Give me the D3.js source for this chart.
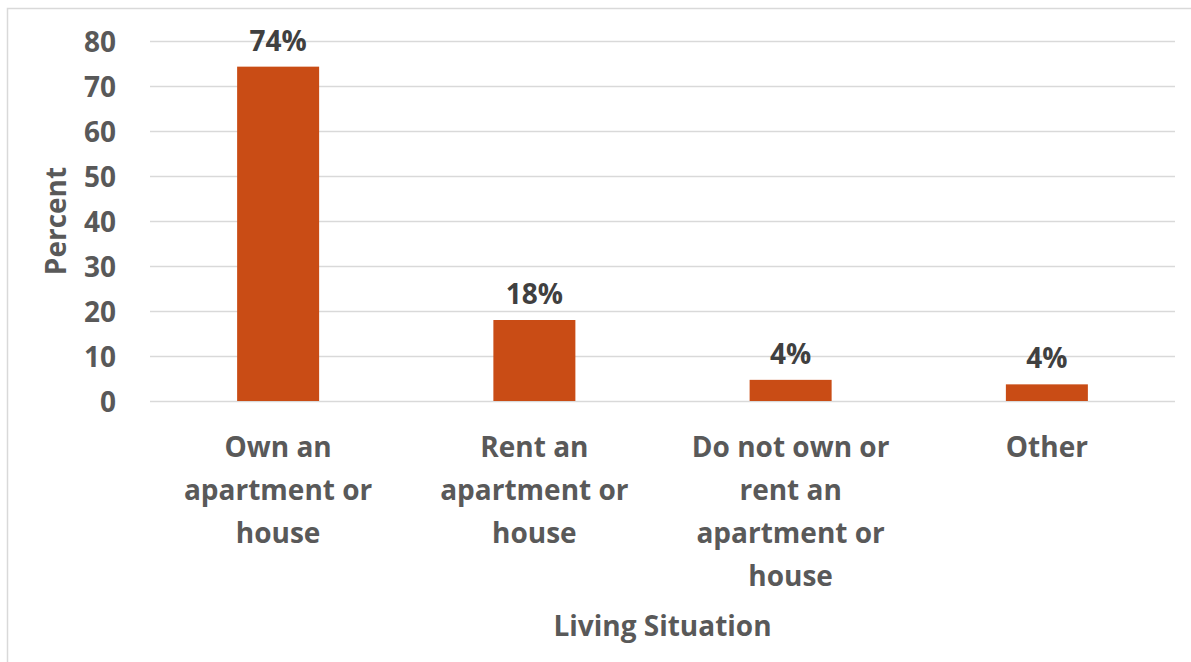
<!DOCTYPE html>
<html>
<head>
<meta charset="utf-8">
<script src="https://cdn.jsdelivr.net/npm/d3@7"></script>
<style>
  html, body { margin: 0; padding: 0; background: #fff; }
  svg { display: block; font-family: "Open Sans", sans-serif; }
</style>
</head>
<body>
<svg id="chart"></svg>
<script>
var width = 1191, height = 662

// data
var categories = ["Own an apartment or house", "Rent an apartment or house",
    "Do not own or rent an apartment or house", "Other"]
var values = [74.3, 18, 4.7, 3.7]
var labels = ["74%", "18%", "4%", "4%"]
var yTicks = [0, 10, 20, 30, 40, 50, 60, 70, 80]

var margin = {left: 150, right: 16, top: 41, bottom: 261}

var svg = d3.select("#chart")
    .attr("width", width)
    .attr("height", height)

// outer chart border
svg.append("rect")
    .attr("x", 7.5).attr("y", 8.5)
    .attr("width", 1300).attr("height", 800)
    .attr("fill", "none")
    .attr("stroke", "#d9d9d9")
    .attr("stroke-width", 1.5)

var x = d3.scaleBand()
    .domain(categories)
    .range([margin.left, width - margin.right])
    .paddingInner(0.68)
    .paddingOuter(0.34)

var y = d3.scaleLinear()
    .domain([0, 80])
    .range([height - margin.bottom, margin.top])

// gridlines
svg.append("g")
    .selectAll("line")
    .data(yTicks)
    .enter()
    .append("line")
        .attr("x1", margin.left)
        .attr("x2", width - margin.right)
        .attr("y1", function(d) { return y(d) + 0.5 })
        .attr("y2", function(d) { return y(d) + 0.5 })
        .attr("stroke", "#d9d9d9")
        .attr("stroke-width", 1.5)

// y axis labels
var yAxis = d3.axisLeft(y).tickValues(yTicks).tickSize(0).tickPadding(34)
var ya = svg.append("g")
    .attr("transform", "translate(" + margin.left + ",0)")
    .call(yAxis)
ya.select(".domain").remove()
ya.selectAll("text")
    .attr("fill", "#595959")
    .style("font-size", "28px")
    .style("font-weight", 700)
    .style("font-family", "Open Sans")
    .attr("dy", "0.36em")

// bars
svg.append("g")
    .selectAll("rect")
    .data(values)
    .enter()
    .append("rect")
        .attr("x", function(d, i) { return x(categories[i]) })
        .attr("width", x.bandwidth())
        .attr("y", function(d) { return y(d) })
        .attr("height", function(d) { return y(0) - y(d) })
        .attr("fill", "#c94c15")

// data labels
svg.append("g")
    .selectAll("text")
    .data(values)
    .enter()
    .append("text")
        .attr("x", function(d, i) { return x(categories[i]) + x.bandwidth() / 2 })
        .attr("y", function(d) { return y(d) - 16 })
        .attr("text-anchor", "middle")
        .attr("fill", "#404040")
        .style("font-size", "28px")
        .style("font-weight", 700)
        .text(function(d, i) { return labels[i] })

// category labels, wrapped
var catG = svg.append("g")
categories.forEach(function(c, i) {
    var cx = x(c) + x.bandwidth() / 2
    var t = catG.append("text")
        .attr("x", cx)
        .attr("y", 457)
        .attr("text-anchor", "middle")
        .attr("fill", "#595959")
        .style("font-size", "28px")
        .style("font-weight", 700)
    var words = c.split(" "), line = []
    var ts = t.append("tspan").attr("x", cx).attr("dy", 0)
    words.forEach(function(w) {
        line.push(w)
        ts.text(line.join(" "))
        if (ts.node().getComputedTextLength() > 228 && line.length > 1) {
            line.pop()
            ts.text(line.join(" "))
            line = [w]
            ts = t.append("tspan").attr("x", cx)
                .attr("dy", 43).text(w)
        }
    })
})

// axis titles
svg.append("text")
    .attr("transform", "translate(66,221) rotate(-90)")
    .attr("text-anchor", "middle")
    .attr("fill", "#595959")
    .style("font-size", "28px")
    .style("font-weight", 700)
    .text("Percent")

svg.append("text")
    .attr("x", (margin.left + width - margin.right) / 2)
    .attr("y", 636)
    .attr("text-anchor", "middle")
    .attr("fill", "#595959")
    .style("font-size", "28px")
    .style("font-weight", 700)
    .text("Living Situation")
</script>
</body>
</html>
